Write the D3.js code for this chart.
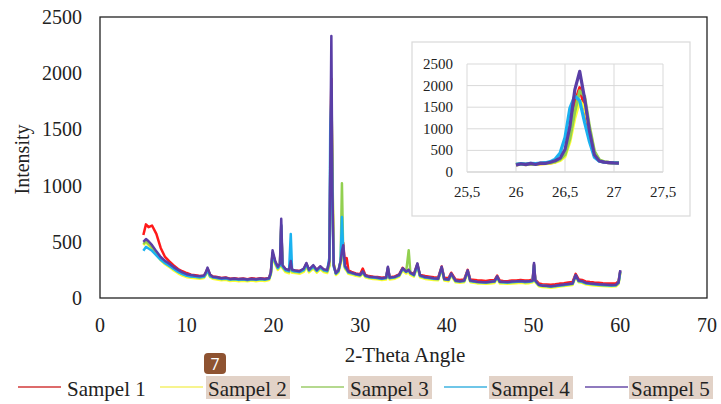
<!DOCTYPE html>
<html>
<head>
<meta charset="utf-8">
<script src="https://cdn.jsdelivr.net/npm/d3@7"></script>
<style>
  body { margin: 0; background: #fff; }
</style>
</head>
<body>
<div id="chart"></div>
<script>
// shared 2-theta positions for the full scan
const angle = [
  5.0, 5.3, 5.6, 6.0, 6.5, 7.0, 7.5, 8.0, 8.5, 9.0, 9.5, 10.0, 10.5, 11.0, 11.5, 12.0,
  12.2, 12.4, 12.7,
  13.0, 13.5, 14.0, 14.5, 15.0, 15.5, 16.0, 16.5, 17.0, 17.5, 18.0, 18.5, 19.0, 19.5,
  19.7, 19.9, 20.2, 20.5, 20.75, 20.9, 21.05, 21.4, 21.8, 22.0, 22.15, 22.5,
  23.0, 23.5, 23.8, 24.1, 24.6, 25.0, 25.4, 25.8, 26.2, 26.45,
  26.55, 26.68, 26.8, 26.95,
  27.2, 27.5, 27.75, 27.9, 28.05, 28.25, 28.45, 28.65, 29.0, 29.5, 30.0, 30.3, 30.6, 31.0,
  31.5, 32.0, 32.5, 33.0, 33.2, 33.4, 34.0, 34.5, 34.9, 35.3, 35.6, 35.8, 36.2, 36.6, 36.9,
  37.5, 38.0, 38.5, 39.0, 39.4, 39.7, 40.2, 40.5, 41.0, 41.5, 42.0, 42.4, 42.7, 43.5, 44.0, 44.5, 45.0, 45.5, 45.8, 46.1,
  46.5, 47.0, 47.5, 48.0, 48.5, 49.0, 49.5, 49.9, 50.05, 50.2, 50.6, 51.0, 51.5, 52.0,
  52.5, 53.0, 53.5, 54.0, 54.5, 54.85, 55.2, 55.6, 56.0, 56.5, 57.0, 57.5, 58.0, 58.5, 59.0, 59.5, 59.8, 60.0
];

const sampel1 = [
  560, 655, 630, 645, 570, 445, 365, 325, 290, 258, 238, 222, 208, 202, 196, 198,
  225, 262, 205,
  192, 186, 178, 182, 172, 176, 170, 174, 168, 175, 170, 176, 172, 178,
  230, 400, 325, 275, 300, 640, 290, 255, 245, 320, 250, 245,
  240, 255, 305, 250, 285, 248, 278, 252, 245, 320,
  1100, 1950, 1000, 300,
  225, 245, 320, 420, 490, 300, 355, 245, 232, 218, 212, 262, 205, 195,
  190, 186, 180, 185, 270, 185, 192, 210, 268, 240, 250, 228, 212, 300, 205,
  195, 190, 185, 182, 280, 180, 178, 225, 165, 160, 165, 250, 165, 158, 155, 152, 158, 160, 200, 155,
  152, 150, 155, 156, 160, 155, 156, 165, 300, 165, 130, 122, 120, 118,
  122, 128, 132, 138, 142, 215, 165, 160, 148, 142, 138, 135, 132, 130, 128, 130, 150, 240
];
const sampel2 = [
  470, 495, 470, 440, 390, 335, 300, 275, 245, 220, 200, 185, 180, 175, 172, 178,
  205, 240, 185,
  172, 165, 158, 162, 152, 156, 150, 154, 148, 155, 150, 156, 152, 160,
  205, 370, 300, 250, 275, 600, 265, 230, 220, 300, 225, 222,
  215, 232, 280, 228, 262, 225, 255, 230, 222, 280,
  800, 1650, 1150, 310,
  205, 225, 300, 450, 360, 260, 240, 215, 210, 198, 192, 215, 185, 175,
  170, 166, 160, 165, 250, 165, 172, 190, 245, 218, 228, 205, 190, 280, 185,
  170, 165, 160, 158, 255, 155, 150, 200, 140, 135, 140, 228, 140, 130, 128, 126, 130, 134, 175, 130,
  128, 126, 130, 132, 136, 130, 132, 140, 280, 140, 105, 98, 95, 92,
  96, 102, 106, 112, 116, 190, 140, 135, 122, 116, 112, 108, 106, 104, 102, 104, 125, 220
];
const sampel3 = [
  480, 505, 480, 450, 400, 350, 315, 290, 262, 235, 215, 200, 192, 186, 182, 188,
  212, 250, 192,
  182, 176, 168, 172, 162, 166, 160, 164, 158, 165, 160, 166, 162, 170,
  215, 385, 310, 262, 285, 620, 275, 242, 232, 330, 238, 232,
  228, 245, 295, 240, 275, 238, 268, 242, 235, 290,
  850, 1900, 1200, 300,
  215, 235, 330, 1020, 380, 270, 250, 225, 220, 208, 200, 228, 195, 185,
  180, 176, 170, 175, 262, 175, 182, 200, 258, 230, 425, 218, 200, 292, 195,
  180, 175, 170, 168, 265, 165, 160, 210, 150, 145, 150, 238, 150, 140, 138, 135, 140, 145, 185, 140,
  138, 136, 140, 142, 146, 140, 142, 150, 290, 150, 115, 106, 104, 100,
  104, 110, 114, 120, 124, 198, 148, 142, 130, 124, 120, 116, 114, 112, 110, 112, 132, 230
];
const sampel4 = [
  420, 455, 440, 420, 380, 340, 310, 285, 258, 232, 212, 198, 192, 188, 184, 190,
  215, 252, 195,
  185, 178, 170, 175, 165, 168, 163, 166, 160, 168, 162, 168, 165, 172,
  220, 395, 318, 268, 292, 650, 282, 248, 240, 570, 245, 238,
  232, 250, 300, 246, 280, 242, 272, 248, 240, 360,
  1500, 1750, 800, 280,
  218, 240, 335, 720, 400, 275, 255, 228, 222, 210, 202, 230, 196, 186,
  182, 178, 172, 178, 265, 178, 185, 202, 260, 232, 245, 220, 202, 295, 198,
  182, 178, 172, 170, 270, 168, 162, 212, 152, 148, 152, 240, 152, 142, 140, 138, 142, 146, 188, 142,
  140, 138, 142, 144, 148, 142, 144, 152, 295, 152, 116, 108, 106, 102,
  106, 112, 116, 122, 126, 200, 150, 145, 132, 126, 122, 118, 116, 114, 112, 114, 135, 235
];
const sampel5 = [
  500, 525, 505, 470, 415, 365, 330, 305, 275, 250, 228, 212, 204, 198, 194, 200,
  228, 270, 208,
  190, 184, 175, 180, 170, 173, 168, 172, 165, 172, 167, 174, 170, 176,
  228, 425, 330, 278, 305, 705, 292, 258, 248, 330, 252, 245,
  238, 262, 312, 252, 292, 250, 282, 255, 248, 330,
  1150, 2330, 950, 290,
  222, 245, 330, 420, 470, 285, 262, 235, 226, 214, 206, 238, 200, 190,
  186, 182, 176, 182, 278, 182, 188, 206, 265, 236, 250, 224, 208, 308, 202,
  186, 182, 176, 172, 278, 170, 165, 218, 155, 150, 155, 246, 155, 145, 142, 140, 145, 150, 192, 145,
  145, 142, 146, 148, 152, 146, 148, 156, 312, 156, 118, 110, 108, 104,
  110, 115, 120, 125, 130, 205, 155, 150, 136, 130, 126, 122, 120, 118, 116, 118, 140, 248
];

// zoomed scan around the main quartz peak (inset)
const insetAngle = [26.0, 26.05, 26.1, 26.15, 26.2, 26.25, 26.3, 26.35, 26.4, 26.45, 26.5,
  26.55, 26.6, 26.65, 26.7, 26.75, 26.8, 26.85, 26.9, 26.95, 27.0, 27.05];
const insetS1 = [170, 185, 175, 190, 180, 195, 200, 210, 235, 285, 420, 900, 1600, 1950, 1500, 850, 380, 260, 225, 215, 210, 205];
const insetS2 = [165, 180, 172, 185, 178, 190, 195, 205, 225, 265, 360, 700, 1250, 1650, 1500, 1000, 450, 270, 230, 218, 212, 208];
const insetS3 = [175, 190, 180, 192, 185, 198, 205, 215, 240, 290, 400, 780, 1400, 1880, 1750, 1050, 480, 280, 235, 222, 215, 210];
const insetS4 = [180, 195, 185, 198, 192, 205, 215, 240, 300, 440, 800, 1480, 1760, 1650, 1150, 700, 340, 250, 225, 215, 212, 208];
const insetS5 = [160, 190, 170, 200, 175, 205, 200, 225, 260, 320, 520, 1050, 1900, 2330, 1700, 950, 400, 255, 228, 218, 210, 205];

const seriesNames = ["Sampel 1", "Sampel 2", "Sampel 3", "Sampel 4", "Sampel 5"];
const seriesColors = ["#ff1a1a", "#ffff33", "#92d050", "#1ab2f0", "#5a3ea6"];
const legendColors = ["#d23a3a", "#f5f06a", "#9ccc6a", "#3fb3e0", "#6a4ea8"];
const xTicks = [0, 10, 20, 30, 40, 50, 60, 70];
const yTicks = [0, 500, 1000, 1500, 2000, 2500];
const insetXTicks = [25.5, 26, 26.5, 27, 27.5];
const insetYTicks = [0, 500, 1000, 1500, 2000, 2500];

const mainSeries = [sampel1, sampel2, sampel3, sampel4, sampel5];
const insetSeries = [insetS1, insetS2, insetS3, insetS4, insetS5];

const serif = '"Liberation Serif"';

const W = 721, H = 404;
const svg = d3.select("#chart").append("svg")
  .attr("width", W).attr("height", H);
svg.append("rect").attr("width", W).attr("height", H).attr("fill", "#fff");

// main plot
const plot = {left: 100, right: 707, top: 17, bottom: 298};
const x = d3.scaleLinear().domain([0, 70]).range([plot.left, plot.right]);
const y = d3.scaleLinear().domain([0, 2500]).range([plot.bottom, plot.top]);

function label(sel, size) {
  return sel.attr("font-family", serif).attr("font-size", size).attr("fill", "#222");
}

label(svg.append("g")
  .selectAll("text")
  .data(yTicks)
  .join("text")
    .attr("x", 82)
    .attr("y", d => y(d) + 7)
    .attr("text-anchor", "end")
    .text(d => d), 20);

label(svg.append("g")
  .selectAll("text")
  .data(xTicks)
  .join("text")
    .attr("x", d => x(d))
    .attr("y", 332)
    .attr("text-anchor", "middle")
    .text(d => d), 20);

label(svg.append("text")
  .attr("transform", `translate(29, ${(plot.top + plot.bottom) / 2 + 2}) rotate(-90)`)
  .attr("text-anchor", "middle")
  .text("Intensity"), 20);

label(svg.append("text")
  .attr("x", 405)
  .attr("y", 362)
  .attr("text-anchor", "middle")
  .text("2-Theta Angle"), 21);

const line = d3.line()
  .x((d, i) => x(angle[i]))
  .y(d => y(d));

svg.append("g")
  .selectAll("path")
  .data(mainSeries)
  .join("path")
    .attr("fill", "none")
    .attr("stroke", (d, i) => seriesColors[i])
    .attr("stroke-width", 2.5)
    .attr("stroke-linejoin", "round")
    .attr("d", line);

svg.append("rect")
  .attr("x", plot.left).attr("y", plot.top)
  .attr("width", plot.right - plot.left)
  .attr("height", plot.bottom - plot.top)
  .attr("fill", "none")
  .attr("stroke", "#222")
  .attr("stroke-width", 1.3);

// inset
svg.append("rect")
  .attr("x", 412).attr("y", 42)
  .attr("width", 278).attr("height", 174)
  .attr("fill", "#fff")
  .attr("stroke", "#d9d9d9")
  .attr("stroke-width", 1.2);

const ix = d3.scaleLinear().domain([25.5, 27.5]).range([467, 663]);
const iy = d3.scaleLinear().domain([0, 2500]).range([172, 64]);

const inset = svg.append("g");
inset.selectAll("line.h")
  .data(insetYTicks)
  .join("line")
    .attr("class", "h")
    .attr("x1", ix(25.5)).attr("x2", ix(27.5))
    .attr("y1", d => iy(d)).attr("y2", d => iy(d))
    .attr("stroke", d => d === 0 ? "#bfbfbf" : "#d9d9d9")
    .attr("stroke-width", 1);
inset.selectAll("line.v")
  .data(insetXTicks)
  .join("line")
    .attr("class", "v")
    .attr("x1", d => ix(d)).attr("x2", d => ix(d))
    .attr("y1", iy(0)).attr("y2", iy(2500))
    .attr("stroke", "#d9d9d9")
    .attr("stroke-width", 1);

label(inset.selectAll("text.yl")
  .data(insetYTicks)
  .join("text")
    .attr("class", "yl")
    .attr("x", 453)
    .attr("y", d => iy(d) + 5)
    .attr("text-anchor", "end")
    .text(d => d), 15);
label(inset.selectAll("text.xl")
  .data(insetXTicks)
  .join("text")
    .attr("class", "xl")
    .attr("x", d => ix(d))
    .attr("y", 197)
    .attr("text-anchor", "middle")
    .text(d => String(d).replace(".", ",")), 15);

const iline = d3.line()
  .x((d, i) => ix(insetAngle[i]))
  .y(d => iy(d));
inset.append("g")
  .selectAll("path")
  .data(insetSeries)
  .join("path")
    .attr("fill", "none")
    .attr("stroke", (d, i) => seriesColors[i])
    .attr("stroke-width", 3.2)
    .attr("stroke-linejoin", "round")
    .attr("d", iline);

// legend
const legendLineX = [18, 160, 301, 444, 585];
const legendTextX = [67, 208, 350, 491, 631];
const highlighted = [false, true, true, true, true];
const legend = svg.append("g");
seriesNames.forEach((name, i) => {
  if (highlighted[i]) {
    legend.append("rect")
      .attr("x", legendTextX[i] - 2).attr("y", 376)
      .attr("width", 84).attr("height", 23)
      .attr("fill", "#e2d2c7");
  }
  legend.append("line")
    .attr("x1", legendLineX[i]).attr("x2", legendLineX[i] + 43)
    .attr("y1", 387).attr("y2", 387)
    .attr("stroke", legendColors[i])
    .attr("stroke-width", 1.3);
  label(legend.append("text")
    .attr("x", legendTextX[i])
    .attr("y", 396)
    .text(name), 21);
});

// page-number badge
svg.append("rect")
  .attr("x", 204).attr("y", 353)
  .attr("width", 22).attr("height", 21)
  .attr("rx", 4)
  .attr("fill", "#8e5331");
svg.append("text")
  .attr("x", 215).attr("y", 370)
  .attr("text-anchor", "middle")
  .attr("font-family", '"Open Sans"')
  .attr("font-size", 16)
  .attr("fill", "#fff")
  .text("7");
</script>
</body>
</html>
